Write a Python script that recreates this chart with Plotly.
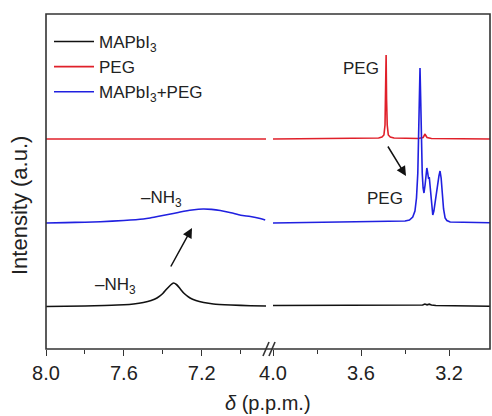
import plotly.graph_objects as go

# ---------------- data ----------------
series_names = ["MAPbI<sub>3</sub>", "PEG", "MAPbI<sub>3</sub>+PEG"]
series_colors = ["#111111", "#e0202a", "#2020e0"]
series_offsets = [42, 210, 126]   # vertical stacking offsets (a.u.)

# MAPbI3
black_left_ppm = [8.00, 7.80, 7.70, 7.60, 7.55, 7.50, 7.46, 7.43, 7.40, 7.38, 7.36, 7.345,
                  7.33, 7.31, 7.29, 7.26, 7.23, 7.19, 7.14, 7.05, 6.95, 6.87]
black_left_int = [0.5, 1.0, 1.5, 2.2, 3.0, 4.5, 6.5, 9.0, 13.5, 18.0, 22.0, 24.0,
                  22.5, 18.0, 13.5, 9.0, 6.5, 4.5, 3.0, 2.0, 1.3, 1.0]
black_right_ppm = [4.00, 3.80, 3.60, 3.40, 3.34, 3.32, 3.31, 3.30, 3.29, 3.28, 3.26, 3.20, 3.10, 3.014]
black_right_int = [1.5, 1.6, 1.8, 1.8, 1.8, 2.0, 3.0, 2.2, 2.8, 2.0, 1.5, 1.2, 1.0, 0.8]

# PEG
red_left_ppm = [8.00, 7.50, 7.00, 6.87]
red_left_int = [0.0, 0.0, 0.0, 0.0]
red_right_ppm = [4.00, 3.70, 3.55, 3.52, 3.505, 3.496, 3.491, 3.488, 3.486, 3.484, 3.481,
                 3.476, 3.467, 3.45, 3.40, 3.34, 3.318, 3.312, 3.309, 3.306, 3.30, 3.28, 3.20, 3.014]
red_right_int = [0.0, 0.2, 0.5, 1.0, 2.0, 4.0, 14.0, 40.0, 84.0, 40.0, 14.0,
                 4.0, 2.0, 1.0, 0.5, 0.5, 1.5, 3.5, 5.0, 3.5, 1.5, 0.5, 0.2, 0.0]

# MAPbI3+PEG
blue_left_ppm = [8.00, 7.90, 7.80, 7.72, 7.60, 7.50, 7.465, 7.414, 7.36, 7.311, 7.25, 7.193,
                 7.15, 7.105, 7.05, 7.00, 6.95, 6.90, 6.874]
blue_left_int = [0.0, 0.4, 0.8, 1.3, 2.5, 4.0, 5.0, 7.0, 9.0, 11.0, 13.0, 14.0,
                 13.6, 12.5, 10.3, 7.8, 6.5, 4.5, 3.0]
blue_right_ppm = [4.00, 3.80, 3.60, 3.45, 3.40, 3.38, 3.365, 3.355, 3.348, 3.342, 3.338, 3.335,
                  3.332, 3.329, 3.326, 3.322, 3.318, 3.314, 3.309, 3.305, 3.301, 3.297, 3.293,
                  3.290, 3.287, 3.283, 3.279, 3.274, 3.269, 3.263, 3.257, 3.251, 3.246, 3.241,
                  3.236, 3.230, 3.225, 3.218, 3.21, 3.195, 3.10, 3.014]
blue_right_int = [0.0, 0.5, 1.0, 1.5, 2.0, 3.0, 6.0, 12.0, 25.0, 50.0, 85.0, 125.0,
                  155.0, 125.0, 80.0, 50.0, 35.0, 30.0, 38.0, 50.0, 55.0, 50.0, 44.0,
                  46.0, 38.0, 25.0, 14.0, 8.0, 12.0, 22.0, 34.0, 42.0, 47.0, 52.0,
                  45.0, 28.0, 14.0, 5.0, 2.5, 1.0, 0.5, 0.3]

left_ppm = [black_left_ppm, red_left_ppm, blue_left_ppm]
left_int = [black_left_int, red_left_int, blue_left_int]
right_ppm = [black_right_ppm, red_right_ppm, blue_right_ppm]
right_int = [black_right_int, red_right_int, blue_right_int]

left_range = [8.0, 6.87]
right_range = [4.0, 3.014]
y_range = [0, 335]

# ---------------- figure ----------------
W, H = 492, 416
PL, PR, PT, PB = 46, 490, 14, 349
def fx(px):
    return (px - PL) / (PR - PL)
def fy(py):
    return (PB - py) / (PB - PT)

FONT = "Liberation Sans, Arial, Helvetica, sans-serif"
fig = go.Figure()

for i in range(3):
    fig.add_trace(go.Scatter(
        x=left_ppm[i], y=[v + series_offsets[i] for v in left_int[i]],
        mode="lines", name=series_names[i], legendgroup=str(i),
        line=dict(color=series_colors[i], width=1.6, shape="spline", smoothing=0.6),
        xaxis="x", yaxis="y", showlegend=True))
for i in range(3):
    fig.add_trace(go.Scatter(
        x=right_ppm[i], y=[v + series_offsets[i] for v in right_int[i]],
        mode="lines", name=series_names[i], legendgroup=str(i),
        line=dict(color=series_colors[i], width=1.6),
        xaxis="x2", yaxis="y", showlegend=False))

tickfont = dict(family=FONT, size=20, color="#222222")
common_x = dict(showgrid=False, zeroline=False, showline=False, ticks="outside",
                ticklen=6, tickwidth=1.3, tickcolor="#333333", tickfont=tickfont,
                dtick=0.4, tickformat=".1f",
                minor=dict(dtick=0.2, ticks="outside", ticklen=4, tickwidth=1.3,
                           tickcolor="#333333", showgrid=False))

fig.update_layout(
    width=W, height=H, autosize=False,
    margin=dict(l=PL, r=W - PR, t=PT, b=H - PB),
    plot_bgcolor="white", paper_bgcolor="white",
    font=dict(family=FONT, color="#222222"),
    xaxis=dict(domain=[0, fx(266)], range=left_range, tick0=8.0, anchor="y", **common_x),
    xaxis2=dict(domain=[fx(273), 1], range=right_range, tick0=4.0, anchor="y", **common_x),
    yaxis=dict(range=y_range, showticklabels=False, ticks="", showgrid=False,
               zeroline=False, showline=False),
    legend=dict(x=fx(49), y=fy(24), xanchor="left", yanchor="top",
                bgcolor="rgba(0,0,0,0)", font=dict(family=FONT, size=17, color="#222222"),
                tracegroupgap=0, itemwidth=40),
    showlegend=True,
)

# frame
fig.add_shape(type="rect", xref="paper", yref="paper", x0=0, x1=1, y0=0, y1=1,
              line=dict(color="#333333", width=1.6), layer="above")
# axis break marks
for dx in (0, 6):
    fig.add_shape(type="line", xref="paper", yref="paper",
                  x0=fx(263 + dx), y0=fy(356), x1=fx(269 + dx), y1=fy(342),
                  line=dict(color="#333333", width=1.6), layer="above")

ann_font = dict(family=FONT, size=17, color="#222222")
def label(text, px, py, xanchor="center", yanchor="middle", **kw):
    fig.add_annotation(text=text, xref="paper", yref="paper", x=fx(px), y=fy(py),
                       xanchor=xanchor, yanchor=yanchor, showarrow=False, **kw)

label("PEG", 361, 68, font=ann_font)
label("PEG", 385, 198, font=ann_font)
label("–NH<sub>3</sub>", 161, 199, font=ann_font)
label("–NH<sub>3</sub>", 115, 286, font=ann_font)
label("<i>δ</i> (p.p.m.)", 268, 416, yanchor="bottom",
      font=dict(family=FONT, size=20, color="#222222"))
label("Intensity (a.u.)", 20, 206, textangle=-90,
      font=dict(family=FONT, size=22, color="#222222"))

# arrows
fig.add_annotation(text="", xref="paper", yref="paper", x=fx(192), y=fy(228),
                   ax=170 - 192, ay=268 - 228, showarrow=True, arrowhead=2,
                   arrowsize=1.3, arrowwidth=1.5, arrowcolor="#111111")
fig.add_annotation(text="", xref="paper", yref="paper", x=fx(406), y=fy(176),
                   ax=387 - 406, ay=145 - 176, showarrow=True, arrowhead=2,
                   arrowsize=1.3, arrowwidth=1.5, arrowcolor="#111111")

fig.write_html("out.html", config={"displayModeBar": False},
               post_script="document.body.style.margin='0';document.body.style.overflow='hidden';")
